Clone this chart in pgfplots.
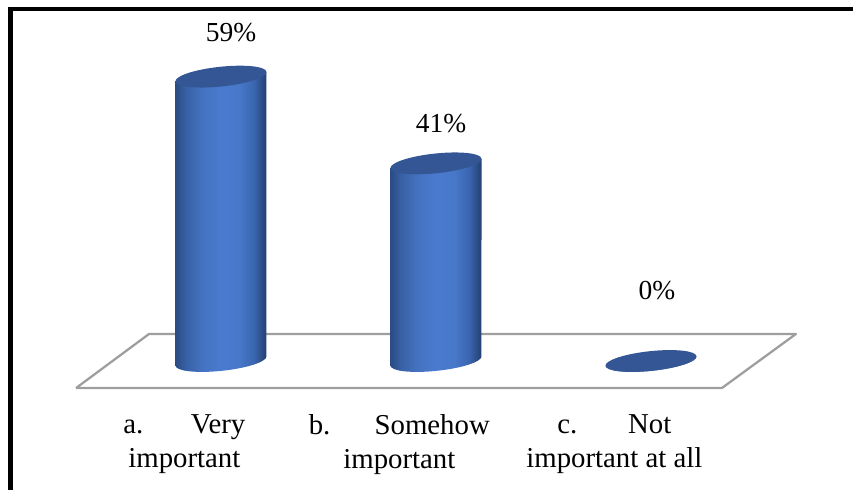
\documentclass[border=0pt]{standalone}
\usepackage{pgfplots}
\pgfplotsset{compat=1.18}
\usepackage{fontspec}
\setmainfont{Liberation Serif}

% colours of the cylinders and the floor
\definecolor{capblue}{RGB}{52,86,148}
\definecolor{flooredge}{RGB}{158,158,158}
\pgfdeclarehorizontalshading{cylbody}{100bp}{%
  rgb(0bp)=(0.17,0.30,0.52);
  rgb(25bp)=(0.17,0.30,0.52);
  rgb(31bp)=(0.22,0.38,0.65);
  rgb(40bp)=(0.27,0.45,0.76);
  rgb(50bp)=(0.29,0.48,0.81);
  rgb(60bp)=(0.28,0.47,0.79);
  rgb(68bp)=(0.23,0.40,0.69);
  rgb(75bp)=(0.14,0.25,0.44);
  rgb(100bp)=(0.14,0.25,0.44)}

% cylinder standing on the zero line: the mark sits at the top of the value,
% \barh is the value expressed as a height on the page
\pgfdeclareplotmark{cylinder}{%
  \pgfscope
    \pgftransformshift{\pgfqpoint{0pt}{-\barh pt}}%
    \pgftransformrotate{6}%
    \pgfpathmoveto{\pgfqpoint{-34.29pt}{0.168pt}}%
    \pgfpatharc{178.7}{358.7}{34.3pt and 7.4pt}%
    \pgfpathlineto{\pgfpointadd{\pgfqpoint{34.29pt}{-0.168pt}}{\pgfpointpolar{84}{\barh pt}}}%
    \pgfpathlineto{\pgfpointadd{\pgfqpoint{-34.29pt}{0.168pt}}{\pgfpointpolar{84}{\barh pt}}}%
    \pgfpathclose
    \pgfshadepath{cylbody}{0}%
    \pgfusepath{discard}%
  \endpgfscope
  \pgfscope
    \pgftransformrotate{6}%
    \pgfsetfillcolor{capblue}%
    \pgfpathellipse{\pgfpointorigin}{\pgfqpoint{34.3pt}{0pt}}{\pgfqpoint{0pt}{7.4pt}}%
    \pgfusepath{fill}%
  \endpgfscope
}

\pgfplotstableread{
pos value dx dy
0 59 10 44
1 41 5 40
2 0 6 70
}\sharetable

\begin{document}
\begin{tikzpicture}
\useasboundingbox (0pt,0pt) rectangle (639.75pt,367.5pt);
\begin{axis}[
  at={(0pt,0pt)},anchor=south west,
  scale only axis,width=639.75pt,height=367.5pt,
  xmin=-1.02791,xmax=2.93953,ymin=-26.763,ymax=74.896,
  clip=false,
  axis line style={draw=none},
  ymajorticks=false,
  xtick={0,1,2},
  major tick length=0pt,
  xticklabels={
    {\makebox[91.5pt]{a.\hfill Very}\\important},
    {\makebox[135.75pt]{b.\hfill Somehow}\\important},
    {\makebox[85.5pt]{c.\hfill Not}\\important at all}},
  xticklabel style={font=\fontsize{21.6}{25.5}\selectfont,align=center,
    anchor=north,yshift=60pt,xshift=-27.5pt},
  nodes near coords style={font=\fontsize{20.6}{24}\selectfont,text=black,
    anchor=center,xshift=\dx*0.75pt,yshift=\dy*0.75pt},
]
% frame along the left and top of the picture
\draw[black,line width=3.9pt] (axis cs:-0.979,-26.763) -- (axis cs:-0.979,73.03);
\draw[black,line width=2.7pt] (axis cs:-0.9907,73.03) -- (axis cs:2.93953,73.03);

% floor of the chart
\addplot[flooredge,line width=1.7pt,line join=round] coordinates
  {(-0.674,-5.6) (2.330,-5.6) (2.674,5.6) (-0.335,5.6) (-0.674,-5.6)};

% cylinders with their percentage labels
\addplot[
  only marks,mark=cylinder,
  visualization depends on={\thisrow{value}*3.615 \as \barh},
  visualization depends on={\thisrow{dx} \as \dx},
  visualization depends on={\thisrow{dy} \as \dy},
  nodes near coords={\pgfmathprintnumber[assume math mode=true]{\pgfplotspointmeta}\%},
  point meta=explicit,
] table[x=pos,y=value,meta=value] {\sharetable};
\end{axis}
\end{tikzpicture}
\end{document}
